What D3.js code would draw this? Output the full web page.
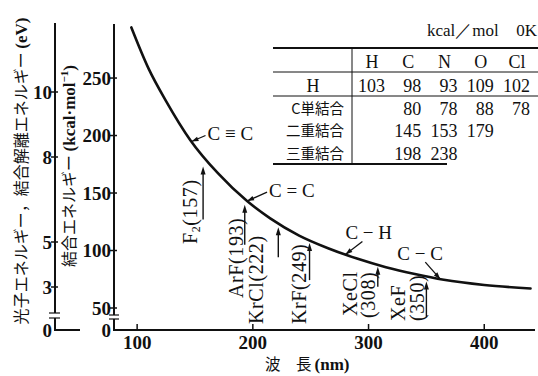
<!DOCTYPE html>
<html>
<head>
<meta charset="utf-8">
<script src="https://cdn.jsdelivr.net/npm/d3@7"></script>
<style>
  html, body { margin: 0; padding: 0; background: #fff; }
  svg { display: block; }
  text { fill: #111; }
  .serif { font-family: "Liberation Serif", "DejaVu Serif", serif; }
  .cjk { font-family: "Noto Sans CJK JP", "Noto Sans", sans-serif; }
</style>
</head>
<body>
<svg id="chart" width="538" height="376"></svg>
<script>
// Photon energy versus wavelength (kcal/mol)
const curveNm   = [95, 110, 125, 146, 170, 195, 215, 240, 265, 290, 315, 340, 365, 400, 440];
const curveKcal = [294, 258, 230, 196, 167, 143, 128, 113, 102, 93, 85.5, 79.5, 74.5, 70, 67];

// Axis ticks
const xTicks    = [100, 200, 300, 400];
const kcalTicks = [0, 50, 100, 150, 200, 250];
const eVTicks   = [0, 3, 5, 8, 10];

// Excimer / F2 laser lines (nm)
const laserNames = ["F₂", "ArF", "KrCl", "KrF", "XeCl", "XeF"];
const laserNm    = [157, 193, 222, 249, 308, 350];

// Bond labels pointing at the curve
const bondNames = ["C ≡ C", "C = C", "C − H", "C − C"];
const bondNm    = [147, 195, 280, 362];

// Bond energy table (kcal/mol, 0 K)
const tableCols = ["H", "C", "N", "O", "Cl"];
const tableRows = ["H", "C単結合", "二重結合", "三重結合"];
const tableVals = [
  [103, 98, 93, 109, 102],
  [null, 80, 78, 88, 78],
  [null, 145, 153, 179, null],
  [null, 198, 238, null, null]
];

// ---- layout ----
const svg = d3.select("#chart");
const axisX = 114, eVX = 55, baseY = 330, topY = 24;

const x = d3.scaleLinear().domain([80, 443]).range([axisX, 534]);
// broken kcal axis: 0 sits on the baseline, linear from 50 upward
const y = d3.scaleLinear().domain([0, 50, 297]).range([baseY, 308, topY]);
const yEV = d3.scaleLinear().domain([0, 3, 5, 8, 10]).range([baseY, 287, 242, 157, 92]);

const curveAt = d3.scaleLinear().domain(curveNm).range(curveKcal);

const ink = "#111";

// ---- axes ----
const axes = svg.append("g").attr("stroke", ink).attr("fill", "none");

// kcal axis with break
axes.append("line").attr("x1", axisX).attr("x2", axisX).attr("y1", topY).attr("y2", 315).attr("stroke-width", 2);
axes.append("line").attr("x1", axisX).attr("x2", axisX).attr("y1", 319).attr("y2", baseY + 1).attr("stroke-width", 2);
[315, 319].forEach(v => axes.append("line").attr("x1", axisX - 5).attr("x2", axisX + 5).attr("y1", v).attr("y2", v).attr("stroke-width", 1.2));

// eV axis with break and foot
axes.append("line").attr("x1", eVX).attr("x2", eVX).attr("y1", topY - 1).attr("y2", 313).attr("stroke-width", 2);
axes.append("line").attr("x1", eVX).attr("x2", eVX).attr("y1", 318).attr("y2", baseY + 1).attr("stroke-width", 2);
[313, 318].forEach(v => axes.append("line").attr("x1", eVX - 6).attr("x2", eVX + 5).attr("y1", v).attr("y2", v).attr("stroke-width", 1.2));
axes.append("line").attr("x1", eVX - 1).attr("x2", 80).attr("y1", baseY).attr("y2", baseY).attr("stroke-width", 2);

// x axis
axes.append("line").attr("x1", axisX - 1).attr("x2", 535).attr("y1", baseY).attr("y2", baseY).attr("stroke-width", 2);

// x ticks
xTicks.forEach(t => {
  axes.append("line").attr("x1", x(t)).attr("x2", x(t)).attr("y1", baseY).attr("y2", baseY - 6).attr("stroke-width", 1.5);
  svg.append("text").attr("class", "serif").attr("x", x(t)).attr("y", baseY + 19)
    .attr("text-anchor", "middle").attr("font-size", 19).attr("font-weight", "bold").text(t);
});

// kcal ticks
kcalTicks.forEach(t => {
  if (t > 0) axes.append("line").attr("x1", axisX - 4).attr("x2", axisX + 3).attr("y1", y(t)).attr("y2", y(t)).attr("stroke-width", 1.5);
  svg.append("text").attr("class", "serif").attr("x", axisX - 3).attr("y", y(t) + 6.5)
    .attr("text-anchor", "end").attr("font-size", 19).attr("font-weight", "bold").text(t);
});

// eV ticks
eVTicks.forEach(t => {
  if (t > 0) axes.append("line").attr("x1", eVX - 4).attr("x2", eVX + 3).attr("y1", yEV(t)).attr("y2", yEV(t)).attr("stroke-width", 1.5);
  svg.append("text").attr("class", "serif").attr("x", eVX - 3).attr("y", yEV(t) + 6.5)
    .attr("text-anchor", "end").attr("font-size", 19).attr("font-weight", "bold").text(t);
});

// axis titles
const outer = svg.append("text").attr("transform", "translate(27,171) rotate(-90)")
  .attr("text-anchor", "middle").attr("font-size", 16);
outer.append("tspan").attr("class", "cjk").text("光子エネルギー，結合解離エネルギー ");
outer.append("tspan").attr("class", "serif").attr("font-weight", "bold").attr("font-size", 17).text("(eV)");

const inner = svg.append("text").attr("transform", "translate(75,166) rotate(-90)")
  .attr("text-anchor", "middle").attr("font-size", 16);
inner.append("tspan").attr("class", "cjk").text("結合エネルギー ");
inner.append("tspan").attr("class", "serif").attr("font-weight", "bold").attr("font-size", 17).text("(kcal·mol");
inner.append("tspan").attr("class", "serif").attr("font-weight", "bold").attr("font-size", 11).attr("dy", -7).text("−1");
inner.append("tspan").attr("class", "serif").attr("font-weight", "bold").attr("font-size", 17).attr("dy", 7).text(")");

const xt = svg.append("text").attr("x", 265).attr("y", 370).attr("font-size", 15.5);
xt.append("tspan").attr("class", "cjk").text("波　長");
xt.append("tspan").attr("class", "serif").attr("font-weight", "bold").attr("font-size", 17).attr("dx", 3).text("(nm)");

// ---- energy curve ----
const line = d3.line().x(d => x(d[0])).y(d => y(d[1])).curve(d3.curveMonotoneX);
svg.append("path").datum(d3.zip(curveNm, curveKcal)).attr("d", line)
  .attr("fill", "none").attr("stroke", ink).attr("stroke-width", 2.6).attr("stroke-linecap", "round");

// ---- laser arrows ----
const laserLayout = [
  { gap: 11, len: 53, labels: [[-6, 244]] },
  { gap: 6,  len: 40, labels: [[-2, 298]] },
  { gap: 4,  len: 30, labels: [[-15, 324]] },
  { gap: 3,  len: 37, labels: [[-4, 324]] },
  { gap: 2,  len: 20, labels: [[-21, 316], [-3, 318]] },
  { gap: 5,  len: 36, labels: [[-21, 321], [-2, 321]] }
];

laserNm.forEach((nm, i) => {
  const L = laserLayout[i];
  const ax = x(nm);
  const top = y(curveAt(nm)) + L.gap;
  const bot = top + L.len;
  svg.append("line").attr("x1", ax).attr("x2", ax).attr("y1", top + 5).attr("y2", bot)
    .attr("stroke", ink).attr("stroke-width", 1.4);
  svg.append("path").attr("d", `M${ax},${top} L${ax - 2.5},${top + 8} L${ax + 2.5},${top + 8} Z`).attr("fill", ink);

  L.labels.forEach((pos, j) => {
    const t = svg.append("text").attr("class", "serif")
      .attr("transform", `translate(${ax + pos[0]},${pos[1]}) rotate(-90)`)
      .attr("font-size", 20).attr("letter-spacing", 0.6);
    if (L.labels.length === 2) {
      t.text(j === 0 ? laserNames[i] : `(${nm})`);
    } else if (laserNames[i] === "F₂") {
      t.append("tspan").text("F");
      t.append("tspan").attr("font-size", 12).attr("dy", 3).text("2");
      t.append("tspan").attr("dy", -3).text(`(${nm})`);
    } else {
      t.text(`${laserNames[i]}(${nm})`);
    }
  });
});

// ---- bond pointers ----
const bondLayout = [
  { end: [14, -6],   text: [16, -2] },
  { end: [20, -9],   text: [22, -4] },
  { end: [17, -13],  text: [0, -15] },
  { end: [-15, -17], text: [-43, -19] }
];
bondNm.forEach((nm, i) => {
  const tx = x(nm), ty = y(curveAt(nm));
  const B = bondLayout[i];
  const ex = tx + B.end[0], ey = ty + B.end[1];
  const ang = Math.atan2(ey - ty, ex - tx);
  const ca = Math.cos(ang), sa = Math.sin(ang);
  svg.append("line").attr("x1", tx).attr("y1", ty).attr("x2", ex).attr("y2", ey)
    .attr("stroke", ink).attr("stroke-width", 1.3);
  const hx = tx + 7 * ca, hy = ty + 7 * sa;
  svg.append("path")
    .attr("d", `M${tx},${ty} L${hx - 2.3 * sa},${hy + 2.3 * ca} L${hx + 2.3 * sa},${hy - 2.3 * ca} Z`)
    .attr("fill", ink);
  svg.append("text").attr("class", "serif").attr("x", tx + B.text[0]).attr("y", ty + B.text[1])
    .attr("font-size", 19).text(bondNames[i]);
});

// ---- bond energy table ----
const tbl = svg.append("g");
const col = d3.scalePoint().domain(tableCols).range([385, 530]);
const rowY = [92, 114.5, 137, 159.5];

tbl.append("text").attr("class", "serif").attr("x", 427).attr("y", 36).attr("font-size", 17).text("kcal／mol");
tbl.append("text").attr("class", "serif").attr("x", 537).attr("y", 36).attr("text-anchor", "end").attr("font-size", 17).text("0K");

const rule = (x1, x2, yy, w) => tbl.append("line").attr("x1", x1).attr("x2", x2).attr("y1", yy).attr("y2", yy)
  .attr("stroke", ink).attr("stroke-width", w);
rule(273, 538, 48, 1.8);
rule(273, 538, 72, 1);
rule(273, 538, 96, 1);
rule(273, 447, 164, 1.8);
tbl.append("line").attr("x1", 352).attr("x2", 352).attr("y1", 48).attr("y2", 164).attr("stroke", ink).attr("stroke-width", 1);

tableCols.forEach(c => {
  tbl.append("text").attr("class", "serif").attr("x", col(c) - 13).attr("y", 67.5)
    .attr("text-anchor", "middle").attr("font-size", 18).text(c);
});

tableRows.forEach((r, i) => {
  if (i === 0) {
    tbl.append("text").attr("class", "serif").attr("x", 313).attr("y", rowY[i])
      .attr("text-anchor", "middle").attr("font-size", 18).text(r);
  } else {
    tbl.append("text").attr("class", "cjk").attr("x", 344).attr("y", rowY[i] - 1)
      .attr("text-anchor", "end").attr("font-size", 14.5).text(r);
  }
  tableVals[i].forEach((v, j) => {
    if (v == null) return;
    tbl.append("text").attr("class", "serif").attr("x", col(tableCols[j])).attr("y", rowY[i])
      .attr("text-anchor", "end").attr("font-size", 18).text(v);
  });
});
</script>
</body>
</html>
